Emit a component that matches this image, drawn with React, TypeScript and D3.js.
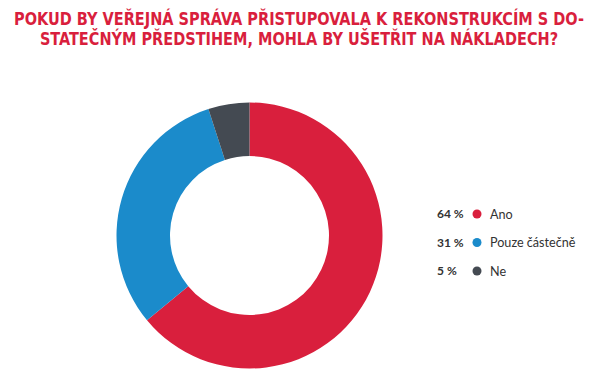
import React, { useLayoutEffect, useRef, useState } from "react";
import * as d3 from "d3";

const titleLines = [
  "POKUD BY VEŘEJNÁ SPRÁVA PŘISTUPOVALA K REKONSTRUKCÍM S DO-",
  "STATEČNÝM PŘEDSTIHEM, MOHLA BY UŠETŘIT NA NÁKLADECH?",
];
const categories = ["Ano", "Pouze částečně", "Ne"];
const values = [64, 31, 5];
const colors = ["#D91F3D", "#1B8BCB", "#444A52"];

const W = 605;
const H = 383;

export default function App() {
  const pie = d3.pie<number>().sort(null).value((d) => d)(values);
  const arc = d3.arc<d3.PieArcDatum<number>>().innerRadius(79.5).outerRadius(133);
  const cx = 249.5;
  const cy = 235.5;
  const legendY = d3.scalePoint<string>().domain(categories).range([214, 271]);
  const titleWidths = [570, 518];
  const refs = useRef<(SVGTextElement | null)[]>([]);
  const [scales, setScales] = useState<number[]>([0.9, 0.9]);
  useLayoutEffect(() => {
    const s = refs.current.map((el, i) => {
      if (!el) return 1;
      const w = el.getComputedTextLength();
      return w > 0 ? titleWidths[i] / w : 1;
    });
    setScales(s);
  }, []);
  return (
    <svg width={W} height={H} style={{ position: "absolute", left: 0, top: 0, background: "#fff" }}>
      {titleLines.map((t, i) => (
        <g key={i} transform={`translate(299,${25 + i * 20}) scale(${scales[i]},1)`}>
          <text
            ref={(el) => {
              refs.current[i] = el;
            }}
            x={0}
            y={0}
            textAnchor="middle"
            fill="#D91F3D"
            fontFamily="'Liberation Sans Narrow','DejaVu Sans Condensed','Roboto',sans-serif"
            fontWeight="bold"
            fontSize={18}
          >
            {t}
          </text>
        </g>
      ))}
      <g transform={`translate(${cx},${cy})`}>
        {pie.map((p, i) => (
          <path key={i} d={arc(p) || ""} fill={colors[i]} />
        ))}
      </g>
      {categories.map((c, i) => {
        const y = legendY(c)!;
        return (
          <g key={c} fontFamily="Lato, 'Open Sans', sans-serif" fill="#333">
            <text x={437} y={y + 4} fontWeight="bold" fontSize={12}>
              {values[i]} %
            </text>
            <circle cx={477} cy={y} r={4.5} fill={colors[i]} />
            <text x={490} y={y + 4.5} fontSize={12.6}>
              {c}
            </text>
          </g>
        );
      })}
    </svg>
  );
}
